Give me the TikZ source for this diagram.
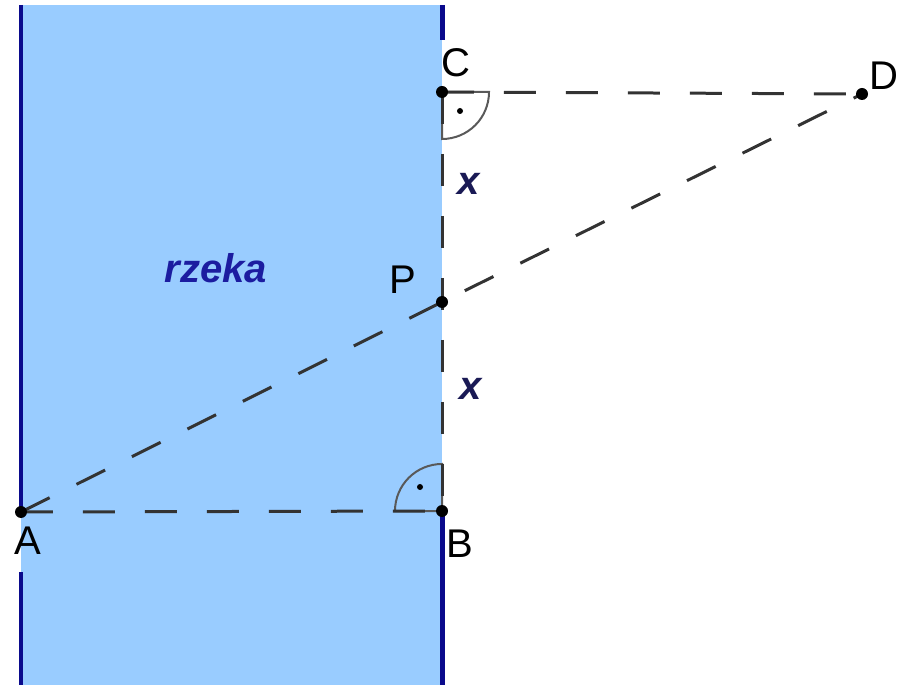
\documentclass[tikz,border=0pt]{standalone}
\usepackage{fontspec}
\setmainfont{Liberation Sans}
\definecolor{riverblue}{HTML}{99CCFF}
\definecolor{banknavy}{HTML}{0A0A8C}
\definecolor{dashgray}{HTML}{333333}
\definecolor{xnavy}{HTML}{1A1A55}
\definecolor{rivertext}{HTML}{1C1CA0}

\begin{document}
\begin{tikzpicture}[x=0.02cm, y=-0.02cm,
    dashline/.style={dashgray, line width=0.06cm, dash pattern=on 0.64cm off 0.6cm},
    bank/.style={banknavy, line width=0.1cm},
    rightmark/.style={gray!70!black, line width=0.04cm},
    lbl/.style={font=\fontsize{22.8}{27}\selectfont, inner sep=0pt}]
    \useasboundingbox (0,0) rectangle (909,685);

    % The river
    \fill[riverblue] (21,5) rectangle (442,685);
    \draw[bank] (21,5) -- (21,510);
    \draw[bank] (21,572) -- (21,685);
    \draw[bank] (442,5) -- (442,40);
    \draw[bank] (442,511) -- (442,685);
    \node[lbl, anchor=base, rivertext, font=\fontsize{22.8}{27}\selectfont\bfseries\itshape] (rzeka) at (216,283) {rzeka};

    % The points
    \coordinate (A) at (21,512);
    \coordinate (B) at (442,511);
    \coordinate (C) at (442,92);
    \coordinate (D) at (862,94);
    \coordinate (P) at (442,302);

    % Right angles at C and B
    \draw[rightmark] (C) -- ++(47,0) arc[start angle=0, end angle=90, radius=47] -- cycle;
    \fill[black] (460,111) circle (3);
    \draw[rightmark] (B) -- ++(-47,0) arc[start angle=180, end angle=270, radius=47] -- cycle;
    \fill[black] (420,487) circle (3);

    % Dashed paths
    \draw[dashline] (A) -- (B);
    \draw[dashline] (C) -- (B);
    \draw[dashline] (C) -- (D);
    \draw[dashline] (A) -- (P) -- (D);

    % Dots
    \foreach \p in {A,B,C,D,P}
        \fill[black] (\p) circle (6);

    % Labels
    \node[lbl] (labA) at (28,541) {A};
    \node[lbl] (labB) at (460,544) {B};
    \node[lbl] (labC) at (456,63) {C};
    \node[lbl] (labD) at (884,76) {D};
    \node[lbl] (labP) at (403,280) {P};
    \node[lbl, xnavy, font=\fontsize{22.8}{27}\selectfont\bfseries\itshape] (x1) at (469,184) {x};
    \node[lbl, xnavy, font=\fontsize{22.8}{27}\selectfont\bfseries\itshape] (x2) at (471,389) {x};
\end{tikzpicture}
\end{document}
